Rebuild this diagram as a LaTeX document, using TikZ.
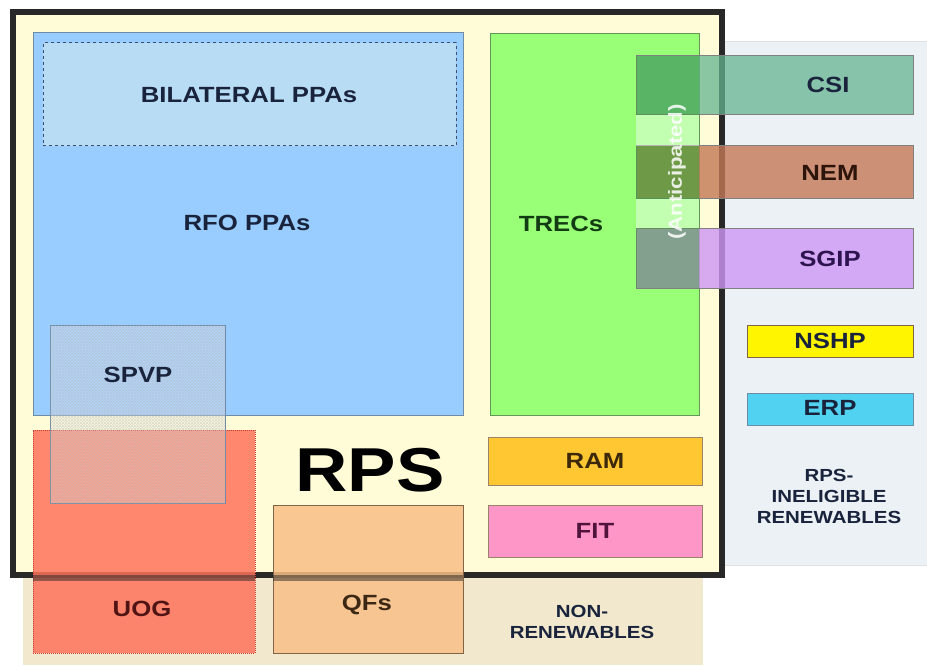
\documentclass[tikz,border=0pt]{standalone}
\usepackage{fontspec}
\setmainfont{Liberation Sans}[FakeStretch=1.17]
\usetikzlibrary{patterns}
\definecolor{rpsfill}{RGB}{255,252,215}
\definecolor{rpsline}{RGB}{40,40,40}
\definecolor{nonrenew}{RGB}{242,232,206}
\definecolor{inelig}{RGB}{236,241,245}
\definecolor{rfoblue}{RGB}{153,204,255}
\definecolor{rfoline}{RGB}{110,140,165}
\definecolor{bilat}{RGB}{185,220,245}
\definecolor{bilatline}{RGB}{60,80,110}
\definecolor{uogred}{RGB}{255,115,92}
\definecolor{uogline}{RGB}{200,60,50}
\definecolor{qforange}{RGB}{248,192,135}
\definecolor{qfline}{RGB}{130,100,70}
\definecolor{trecgreen}{RGB}{153,255,119}
\definecolor{trecline}{RGB}{100,150,90}
\definecolor{csiteal}{RGB}{100,180,145}
\definecolor{nembrown}{RGB}{195,120,85}
\definecolor{sgippurple}{RGB}{205,150,245}
\definecolor{stripgreen}{RGB}{60,160,60}
\definecolor{nshpyellow}{RGB}{255,245,0}
\definecolor{erpcyan}{RGB}{80,210,240}
\definecolor{ramorange}{RGB}{255,200,50}
\definecolor{fitpink}{RGB}{255,150,200}
\definecolor{txt}{RGB}{25,35,60}
\begin{document}
\begin{tikzpicture}[x=1pt,y=-1pt,
  region/.style={draw=none, inner sep=0pt, outer sep=0pt},
  box/.style={draw, line width=1pt, inner sep=0pt, outer sep=0pt},
  lbl/.style={font=\bfseries\fontsize{22}{24}\selectfont, text=txt, inner sep=0pt},
  small/.style={font=\bfseries\fontsize{17.5}{21}\selectfont, text=txt, align=center, inner sep=0pt}]
\useasboundingbox (0,0) rectangle (927,666);
\fill[white] (0,0) rectangle (927,666);
% background regions
\node[region, fill=nonrenew, minimum width=680pt, minimum height=245pt] (nonrenreg) at (363,542.5) {};
\node[region, fill=inelig, draw=black!12, line width=1pt, minimum width=227pt, minimum height=523pt] (ineligreg) at (813.5,303.5) {};
% RPS box
\node[draw=rpsline, fill=rpsfill, line width=6pt, inner sep=0pt, minimum width=709pt, minimum height=563pt] (rps) at (367.5,293.5) {};
% RFO and bilateral
\node[box, draw=rfoline, fill=rfoblue, minimum width=430pt, minimum height=382pt] (rfo) at (248,224) {};
\node[box, draw=bilatline, dashed, fill=bilat, minimum width=413pt, minimum height=103pt] (bilat) at (249.5,94.5) {};
% TRECs, RAM, FIT
\node[box, draw=trecline, fill=trecgreen, minimum width=209pt, minimum height=381pt] (trecs) at (594.5,224.5) {};
\node[box, draw=qfline!80, fill=ramorange, minimum width=214pt, minimum height=48pt] (ram) at (595,461) {};
\node[box, draw=qfline!80, fill=fitpink, minimum width=214pt, minimum height=52pt] (fit) at (595,531) {};
% UOG and QFs
\node[box, draw=uogline, densely dotted, fill=uogred, fill opacity=0.85, minimum width=222pt, minimum height=223pt] (uog) at (144,541.5) {};
\node[box, draw=qfline, fill=qforange, fill opacity=0.85, minimum width=190pt, minimum height=148pt] (qfs) at (368,579) {};
% RPS bottom border seen through UOG and QFs
\draw[rpsline, line width=6pt, opacity=0.5] (uog.west |- rps.south) -- (uog.east |- rps.south);
\draw[rpsline, line width=6pt, opacity=0.5] (qfs.west |- rps.south) -- (qfs.east |- rps.south);
% SPVP hatched
\node[box, draw=rfoline, fill=gray!15, fill opacity=0.3, minimum width=175pt, minimum height=178pt] (spvp) at (137.5,414) {};
\fill[pattern=crosshatch, pattern color=gray!60, opacity=0.4] (spvp.north west) rectangle (spvp.south east);
% CSI, NEM, SGIP
\node[box, draw=black!50, fill=csiteal, fill opacity=0.75, minimum width=277pt, minimum height=59pt] (csi) at (774.5,85.5) {};
\node[box, draw=black!50, fill=nembrown, fill opacity=0.8, minimum width=277pt, minimum height=53pt] (nem) at (774.5,172.5) {};
\node[box, draw=black!50, fill=sgippurple, fill opacity=0.8, minimum width=277pt, minimum height=60pt] (sgip) at (774.5,258) {};
% anticipated strip
\fill[stripgreen, opacity=0.45] (csi.north west) rectangle ([xshift=63pt]csi.south west);
\fill[stripgreen, opacity=0.6] (nem.north west) rectangle ([xshift=63pt]nem.south west);
\fill[stripgreen!70!gray, opacity=0.55] (sgip.north west) rectangle ([xshift=63pt]sgip.south west);
\fill[white, opacity=0.42] (csi.south west) rectangle ([xshift=63pt]nem.north west);
\fill[white, opacity=0.42] (nem.south west) rectangle ([xshift=63pt]sgip.north west);
\node[font=\bfseries\fontsize{19}{21}\selectfont, text=white, text opacity=0.85, rotate=90, inner sep=0pt] (antic) at (677,172) {(Anticipated)};
% NSHP, ERP
\node[box, draw=qfline, fill=nshpyellow, minimum width=166pt, minimum height=32pt] (nshp) at (830,341) {};
\node[box, draw=rfoline, fill=erpcyan, minimum width=166pt, minimum height=32pt] (erp) at (830,409) {};
% labels
\node[lbl] (bilatlbl) at (249,95) {BILATERAL PPAs};
\node[lbl] (rfolbl) at (247,223) {RFO PPAs};
\node[lbl, text={rgb,255:red,20;green,60;blue,20}] (treclbl) at (561,224) {TRECs};
\node[lbl] (csilbl) at (828,85) {CSI};
\node[lbl, text={rgb,255:red,45;green,20;blue,10}] (nemlbl) at (830,173) {NEM};
\node[lbl, text={rgb,255:red,45;green,20;blue,80}] (sgiplbl) at (830,259) {SGIP};
\node[lbl] (nshplbl) at (830,341) {NSHP};
\node[lbl] (erplbl) at (830,408) {ERP};
\node[lbl, text={rgb,255:red,60;green,40;blue,10}] (ramlbl) at (595,461) {RAM};
\node[lbl, text={rgb,255:red,80;green,20;blue,60}] (fitlbl) at (595,531) {FIT};
\node[lbl] (spvplbl) at (138,375) {SPVP};
\node[lbl, text={rgb,255:red,80;green,20;blue,20}] (uoglbl) at (142,609) {UOG};
\node[lbl, text={rgb,255:red,60;green,40;blue,20}] (qflbl) at (367,605) {QFs};
\node[font=\bfseries\fontsize{62}{64}\selectfont, text=black, inner sep=0pt] (rpslbl) at (370,470) {RPS};
\node[small] (ineliglbl) at (829,496) {RPS-\\INELIGIBLE\\RENEWABLES};
\node[small] (nonrenlbl) at (582,622) {NON-\\RENEWABLES};
\end{tikzpicture}
\end{document}
